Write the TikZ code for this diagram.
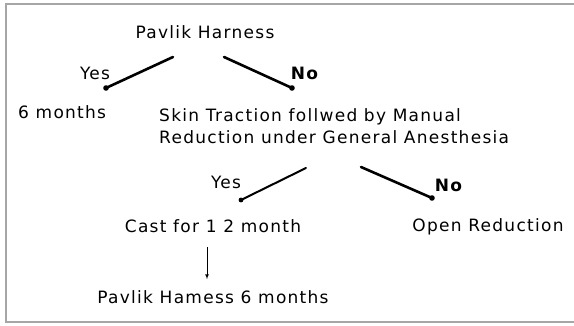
\documentclass[tikz,border=0pt]{standalone}
\usepackage{fontspec}
\setmainfont{DejaVu Sans}[LetterSpace=7.5]
\begin{document}
\begin{tikzpicture}[x=1pt,y=1pt,
  lbl/.style={inner sep=0pt,font=\fontsize{17}{22}\selectfont},
  branch/.style={line width=2.6pt,line cap=round},
  blob/.style={fill=black}]
\useasboundingbox (0,0) rectangle (574,326);
\draw[gray!70,line width=1.4pt] (574,322) -- (6,322) -- (6,4) -- (574,4);
% texts
\node[lbl] (ph) at (205,294) {Pavlik Harness};
\node[lbl] (yes1) at (95,253) {Yes};
\node[lbl] (no1) at (305,253) {\textbf{No}};
\node[lbl,anchor=west] (six) at (18,214) {6 months};
\node[lbl,anchor=west,align=left] (skin) at (159,200) {Skin Traction follwed by Manual\\Reduction under General Anesthesia};
\node[lbl] (yes2) at (226,144) {Yes};
\node[lbl] (no2) at (449,141) {\textbf{No}};
\node[lbl] (cast) at (213,100) {Cast for 1 2 month};
\node[lbl] (open) at (488,99) {Open Reduction};
\node[lbl] (ph6) at (213,29) {Pavlik Hamess 6 months};
% branch coordinates
\coordinate (a1) at (173,269); \coordinate (a2) at (106,238);
\coordinate (b1) at (224,269); \coordinate (b2) at (292,238);
\coordinate (c1) at (306,158); \coordinate (c2) at (241,126);
\coordinate (d1) at (361,159); \coordinate (d2) at (432,128);
\draw[branch] (a1) -- (a2); \fill[blob] (a2) circle (2.8pt);
\draw[branch] (b1) -- (b2); \fill[blob] (b2) circle (2.8pt);
\draw[branch,line width=2pt] (c1) -- (c2); \fill[blob] (c2) circle (2.4pt);
\draw[branch] (d1) -- (d2); \fill[blob] (d2) circle (2.8pt);
% arrow
\draw[-latex,line width=0.7pt] ([yshift=-14pt]cast.south -| 207,0) -- ([yshift=11pt]ph6.north -| 207,0);
\end{tikzpicture}
\end{document}
